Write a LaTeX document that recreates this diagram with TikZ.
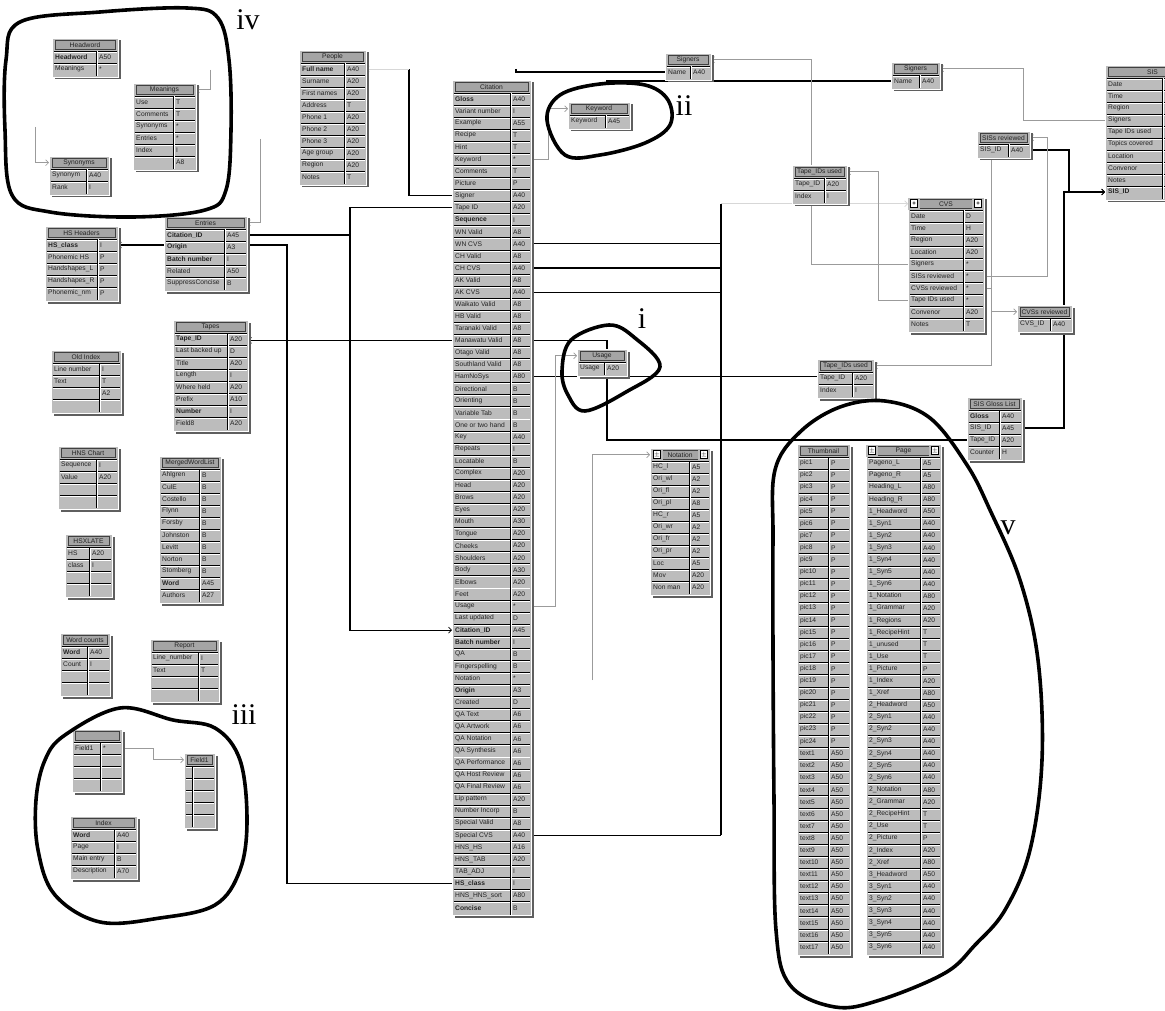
\documentclass[tikz,border=0pt]{standalone}
\usepackage{fontspec}
\setmainfont{Liberation Serif}
\newfontfamily\tabfont{Liberation Sans}
\usetikzlibrary{arrows.meta}
\definecolor{tabfill}{RGB}{188,188,188}
\definecolor{titlefill}{RGB}{165,165,165}
\definecolor{shadowc}{RGB}{95,95,95}
\definecolor{txtc}{RGB}{35,35,35}
\definecolor{linkgray}{RGB}{155,155,155}
\definecolor{faintc}{RGB}{215,215,215}
\pgfdeclarelayer{bg}
\pgfdeclarelayer{paper}
\pgfsetlayers{paper,bg,main}
\tikzset{
 tbody/.style={fill=tabfill, draw=white, line width=0.6pt, inner sep=0pt, outer sep=0pt},
 tshadow/.style={fill=shadowc},
 ttitlebox/.style={fill=titlefill, draw=black!75, line width=0.5pt},
 ttext/.style={font=\tabfont\fontsize{6.7}{7}\selectfont, text=txtc, inner sep=0pt},
 trow/.style={draw=black, line width=0.7pt},
 twhite/.style={draw=white, line width=0.6pt},
 blk/.style={draw=black, line width=1.1pt},
 gry/.style={draw=linkgray, line width=0.8pt},
 faint/.style={draw=faintc, line width=0.8pt},
 tip/.style={-{Straight Barb[length=3pt,width=6pt,line width=0.7pt]}},
 loopline/.style={draw=black, line width=3.6pt, line join=round},
 lbl/.style={font=\fontsize{30}{30}\selectfont, inner sep=0pt},
 btn/.style={fill=white, draw=black, line width=0.6pt, minimum width=7pt, minimum height=8pt, inner sep=0pt, font=\tabfont\bfseries\fontsize{6}{6}\selectfont}
}
% #1 name, #2 left x, #3 top y, #4 split x, #5 right x, #6 row pitch, #7 title, #8 rows
\newcommand\dbtable[8]{%
 \pgfmathsetmacro\tX{#2}%
 \pgfmathsetmacro\tY{#3}%
 \pgfmathsetmacro\tS{#4}%
 \pgfmathsetmacro\tR{#5}%
 \pgfmathsetmacro\tP{#6}%
 \gdef\tN{0}%
 \foreach \a/\b [count=\i] in {#8} {\xdef\tN{\i}}%
 \pgfmathsetmacro\tB{\tY+13+\tN*\tP+2}%
 \pgfmathsetmacro\tW{\tR-\tX}%
 \pgfmathsetmacro\tH{\tB-\tY}%
 \fill[tshadow] (\tX+2.5,\tY+2.5) rectangle (\tR+2.5,\tB+2.5);%
 \node[tbody, anchor=north west, minimum width=\tW pt, minimum height=\tH pt] (#1) at (\tX,\tY) {};%
 \draw[ttitlebox] (\tX+3,\tY+2) rectangle (\tR-3,\tY+11.5);%
 \node[ttext] (#1-title) at ({(\tX+\tR)/2},\tY+6.75) {#7};%
 \coordinate (#1-TL) at (\tX,\tY+6.75);%
 \coordinate (#1-TR) at (\tR,\tY+6.75);%
 \coordinate (#1-BOT) at ({(\tX+\tR)/2},\tB);%
 \foreach \a/\b [count=\i] in {#8} {%
   \pgfmathsetmacro\rT{\tY+13+(\i-1)*\tP}%
   \pgfmathsetmacro\rC{\rT+\tP/2}%
   \draw[trow] (\tX+1.5,\rT) -- (\tR-1.5,\rT);%
   \draw[twhite] (\tX+1.5,\rT+0.9) -- (\tR-1.5,\rT+0.9);%
   \node[ttext, anchor=west] (#1-n\i) at (\tX+3,\rC) {\a};%
   \node[ttext, anchor=west] (#1-v\i) at (\tS+3,\rC) {\b};%
   \coordinate (#1-L\i) at (\tX,\rC);%
   \coordinate (#1-R\i) at (\tR,\rC);%
 }%
 \draw[trow] (\tS,\tY+13) -- (\tS,\tB-1);%
 \draw[twhite] (\tS+0.9,\tY+13.5) -- (\tS+0.9,\tB-1);%
}
% button: name, x, y, symbol
\newcommand\tbtn[4]{%
 \fill[tabfill] (#2-6,#3-6) rectangle (#2+6,#3+6);%
 \node[btn] (#1) at (#2,#3) {#4};%
}
\begin{document}
\begin{tikzpicture}[x=1pt,y=-1pt]
\useasboundingbox (0,0) rectangle (1165,1011);
\clip (0,0) rectangle (1165,1011);
\begin{pgfonlayer}{paper}
\fill[white] (0,0) rectangle (1165,1011);
\end{pgfonlayer}

% ---------------- tables ----------------
\dbtable{headword}{52}{38}{96}{118}{12}{Headword}{\textbf{Headword}/A50, Meanings/*}
\dbtable{meanings}{133}{83}{173}{196}{12}{Meanings}{Use/T, Comments/T, Synonyms/*, Entries/*, Index/I, {}/A8}
\dbtable{synonyms}{49}{156}{86}{109}{12}{Synonyms}{Synonym/A40, Rank/I}
\dbtable{entries}{164}{216}{224}{247}{12}{Entries}{\textbf{Citation\_ID}/A45, \textbf{Origin}/A3, \textbf{Batch number}/I, Related/A50, SuppressConcise/B}
\dbtable{hsheaders}{45}{226}{97}{118}{12}{HS Headers}{\textbf{HS\_class}/I, Phonemic HS/P, Handshapes\_L/P, Handshapes\_R/P, Phonemic\_nm/P}
\dbtable{oldindex}{51}{350}{99}{121}{12}{Old Index}{Line number/I, Text/T, {}/A2, {}/{}}
\dbtable{hnschart}{58}{446}{96}{118}{12}{HNS Chart}{Sequence/I, Value/A20, {}/{}, {}/{}}
\dbtable{hsxlate}{65}{534}{89}{112}{12}{HSXLATE}{HS/A20, class/I, {}/{}, {}/{}}
\dbtable{wordcounts}{60}{633}{87}{110}{12}{Word counts}{\textbf{Word}/A40, Count/I, {}/{}, {}/{}}
\dbtable{tapes}{173}{320}{227}{248}{12}{Tapes}{\textbf{Tape\_ID}/A20, Last backed up/D, Title/A20, Length/I, Where held/A20, Prefix/A10, \textbf{Number}/I, Field8/A20}
\dbtable{mergedwl}{159}{456}{199}{221}{12}{MergedWordList}{Ahlgren/B, CulE/B, Costello/B, Flynn/B, Forsby/B, Johnston/B, Levitt/B, Norton/B, Stomberg/B, \textbf{Word}/A45, Authors/A27}
\dbtable{report}{150}{639}{198}{219}{12}{Report}{Line\_number/I, Text/T, {}/{}, {}/{}}
\dbtable{anon}{72}{729}{100}{122}{12}{}{Field1/*, {}/{}, {}/{}, {}/{}}
\dbtable{field1}{184}{753}{192}{215}{12}{Field1}{{}/{}, {}/{}, {}/{}, {}/{}, {}/{}}
\dbtable{index}{70}{816}{114}{137}{12}{Index}{\textbf{Word}/A40, Page/I, Main entry/B, Description/A70}
\dbtable{people}{299}{50}{344}{366}{12}{People}{\textbf{Full name}/A40, Surname/A20, First names/A20, Address/T, Phone 1/A20, Phone 2/A20, Phone 3/A20, Age group/A20, Region/A20, Notes/T}
\dbtable{citation}{452}{80}{510}{531}{12.07}{Citation}{\textbf{Gloss}/A40, Variant number/I, Example/A55, Recipe/T, Hint/T, Keyword/*, Comments/T, Picture/P, Signer/A40, Tape ID/A20, \textbf{Sequence}/I, WN Valid/A8, WN CVS/A40, CH Valid/A8, CH CVS/A40, AK Valid/A8, AK CVS/A40, Waikato Valid/A8, HB Valid/A8, Taranaki Valid/A8, Manawatu Valid/A8, Otago Valid/A8, Southland Valid/A8, HamNoSys/A80, Directional/B, Orienting/B, Variable Tab/B, One or two hand/B, Key/A40, Repeats/I, Locatable/B, Complex/A20, Head/A20, Brows/A20, Eyes/A20, Mouth/A30, Tongue/A20, Cheeks/A20, Shoulders/A20, Body/A30, Elbows/A20, Feet/A20, Usage/*, Last updated/D, \textbf{Citation\_ID}/A45, \textbf{Batch number}/I, QA/B, Fingerspelling/B, Notation/*, \textbf{Origin}/A3, Created/D, QA Text/A6, QA Artwork/A6, QA Notation/A6, QA Synthesis/A6, QA Performance/A6, QA Host Review/A6, QA Final Review/A6, Lip pattern/A20, Number Incorp/B, Special Valid/A8, Special CVS/A40, HNS\_HS/A16, HNS\_TAB/A20, TAB\_ADJ/I, \textbf{HS\_class}/I, HNS\_HNS\_sort/A80, \textbf{Concise}/B}
\dbtable{keyword}{568}{102}{605}{630}{12}{Keyword}{Keyword/A45}
\dbtable{signersA}{665}{53}{690}{711}{12}{Signers}{Name/A40}
\dbtable{signersB}{891}{62}{919}{940}{12}{Signers}{Name/A40}
\dbtable{sis}{1105}{65}{1162}{1200}{12}{SIS}{Date/D, Time/H, Region/A20, Signers/*, Tape IDs used/*, Topics covered/T, Location/A20, Convenor/A20, Notes/T, \textbf{SIS\_ID}/A40}
\dbtable{tapeidsA}{792}{165}{824}{847}{12}{Tape\_IDs used}{Tape\_ID/A20, Index/I}
\dbtable{sisrev}{977}{131}{1008}{1030}{12}{SISs reviewed}{SIS\_ID/A40}
\dbtable{cvs}{908}{197}{963}{984}{12}{CVS}{Date/D, Time/H, Region/A20, Location/A20, Signers/*, SISs reviewed/*, CVSs reviewed/*, Tape IDs used/*, Convenor/A20, Notes/T}
\dbtable{cvsrev}{1017}{305}{1050}{1072}{12}{CVSs reviewed}{CVS\_ID/A40}
\dbtable{tapeidsB}{817}{359}{852}{874}{12}{Tape\_IDs used}{Tape\_ID/A20, Index/I}
\dbtable{usage}{577}{349}{604}{627}{12}{Usage}{Usage/A20}
\dbtable{glosslist}{967}{397}{999}{1022}{12}{SIS Gloss List}{\textbf{Gloss}/A40, SIS\_ID/A45, Tape\_ID/A20, Counter/H}
\dbtable{notation}{650}{448}{689}{710}{12}{Notation}{HC\_l/A5, Ori\_wl/A2, Ori\_fl/A2, Ori\_pl/A8, HC\_r/A5, Ori\_wr/A2, Ori\_fr/A2, Ori\_pr/A2, Loc/A5, Mov/A20, Non man/A20}
\dbtable{thumb}{797}{444}{828}{850}{12.1}{Thumbnail}{pic1/P, pic2/P, pic3/P, pic4/P, pic5/P, pic6/P, pic7/P, pic8/P, pic9/P, pic10/P, pic11/P, pic12/P, pic13/P, pic14/P, pic15/P, pic16/P, pic17/P, pic18/P, pic19/P, pic20/P, pic21/P, pic22/P, pic23/P, pic24/P, text1/A50, text2/A50, text3/A50, text4/A50, text5/A50, text6/A50, text7/A50, text8/A50, text9/A50, text10/A50, text11/A50, text12/A50, text13/A50, text14/A50, text15/A50, text16/A50, text17/A50}
\dbtable{page}{866}{444}{920}{941}{12.1}{Page}{Pageno\_L/A5, Pageno\_R/A5, Heading\_L/A80, Heading\_R/A80, 1\_Headword/A50, 1\_Syn1/A40, 1\_Syn2/A40, 1\_Syn3/A40, 1\_Syn4/A40, 1\_Syn5/A40, 1\_Syn6/A40, 1\_Notation/A80, 1\_Grammar/A20, 1\_Regions/A20, 1\_RecipeHint/T, 1\_unused/T, 1\_Use/T, 1\_Picture/P, 1\_Index/A20, 1\_Xref/A80, 2\_Headword/A50, 2\_Syn1/A40, 2\_Syn2/A40, 2\_Syn3/A40, 2\_Syn4/A40, 2\_Syn5/A40, 2\_Syn6/A40, 2\_Notation/A80, 2\_Grammar/A20, 2\_RecipeHint/T, 2\_Use/T, 2\_Picture/P, 2\_Index/A20, 2\_Xref/A80, 3\_Headword/A50, 3\_Syn1/A40, 3\_Syn2/A40, 3\_Syn3/A40, 3\_Syn4/A40, 3\_Syn5/A40, 3\_Syn6/A40}

% title buttons
\tbtn{cvs-b1}{914}{203.75}{+}
\tbtn{cvs-b2}{978}{203.75}{+}
\tbtn{notation-b1}{657}{454.75}{$\pm$}
\tbtn{notation-b2}{704}{454.75}{$\pm$}
\tbtn{page-b1}{872}{450.75}{$\pm$}
\tbtn{page-b2}{935}{450.75}{$\pm$}

% ---------------- connectors ----------------
\begin{pgfonlayer}{bg}
\coordinate (busA) at (350,0);
\coordinate (busB) at (287,0);
\coordinate (busP) at (409,0);
\coordinate (busK) at (548,0);
\coordinate (busU) at (555,0);
\coordinate (busM) at (607,0);
\coordinate (busC) at (721,0);
\coordinate (busS1) at (811,0);
\coordinate (busT1) at (878,0);
\coordinate (busS2) at (1023,0);
\coordinate (busSR) at (1047,0);
\coordinate (busCR) at (991,0);
\coordinate (busSI) at (1069,0);
\coordinate (busGL) at (1064,0);
\coordinate (busF) at (153,0);
\coordinate (notfree) at (592,680);
\coordinate (cvsbustop) at (721,203.75);
\coordinate (topfree) at (516,69);
\coordinate (top2free) at (606,81);
\coordinate (mfree) at (210,70);
\coordinate (sfree) at (35,127);
\coordinate (efree) at (260,139);

% black links
\draw[blk, tip] (entries-R1) -- (entries-R1 -| busA) -- (citation-L45 -| busA) -- (citation-L45);
\draw[blk] (citation-L10) -- (citation-L10 -| busA) -- (entries-R1 -| busA);
\draw[blk, tip] (citation-L21) -- (citation-L21 -| tapes-R1);
\draw[blk, tip] (citation-L66) -- (citation-L66 -| busB) -- (hsheaders-R1 -| busB) -- (hsheaders-R1);
\draw[blk] (citation-L9) -- (citation-L9 -| busP) -- (people-R1 -| busP);
\draw[faint, tip] (people-R1 -| busP) -- (people-R1);
\draw[blk] (citation-R21) -- (citation-R21 -| busM) -- (glosslist-L3 -| busM) -- (glosslist-L3);
\draw[blk] (citation-R24) -- (citation-R24 -| tapeidsB-L1);
\draw[blk] (citation-R13) -- (citation-R13 -| busC);
\draw[blk] (citation-R15) -- (citation-R15 -| busC);
\draw[blk] (citation-R17) -- (citation-R17 -| busC);
\draw[blk] (citation-R62) -- (citation-R62 -| busC);
\draw[blk] (cvsbustop) -- (citation-R62 -| busC);
\draw[faint, tip] (cvsbustop) -- (cvs-TL);
\draw[blk] (topfree) -- (topfree |- signersA-L1) -- (signersA-L1);
\draw[blk] (top2free) -- (signersB-L1);
\draw[blk, tip] (sisrev-R1) -- (sisrev-R1 -| busSI) -- (sis-L10 -| busSI) -- (sis-L10);
\draw[blk, tip] (glosslist-R2) -- (glosslist-R2 -| busGL) -- (sis-L10 -| busGL) -- (sis-L10);

% grey links
\draw[gry, tip] (citation-R6) -- (citation-R6 -| busK) -- (keyword-TL -| busK) -- (keyword-TL);
\draw[gry, tip] (citation-R43) -- (citation-R43 -| busU) -- (usage-TL -| busU) -- (usage-TL);
\draw[gry, tip] (notfree) -- (notfree |- notation-TL) -- (notation-TL);
\draw[gry, tip] (cvs-L5) -- (cvs-L5 -| busS1) -- (signersA-TR -| busS1) -- (signersA-TR);
\draw[gry, tip] (sis-L4) -- (sis-L4 -| busS2) -- (signersB-TR -| busS2) -- (signersB-TR);
\draw[gry, tip] (cvs-L8) -- (cvs-L8 -| busT1) -- (tapeidsA-TR -| busT1) -- (tapeidsA-TR);
\draw[gry, tip] (cvs-R6) -- (cvs-R6 -| busSR) -- (sisrev-TR -| busSR) -- (sisrev-TR);
\draw[gry, tip] (cvs-R7) -- (cvs-R7 -| busCR) -- (cvsrev-TL -| busCR) -- (cvsrev-TL);
\draw[gry, tip] (busCR |- sisrev-BOT) -- (busCR |- tapeidsB-TR) -- (tapeidsB-TR);
\draw[gry, tip] (mfree) -- (mfree |- meanings-TR) -- (meanings-TR);
\draw[gry, tip] (sfree) -- (sfree |- synonyms-TL) -- (synonyms-TL);
\draw[gry, tip] (efree) -- (efree |- entries-TR) -- (entries-TR);
\draw[gry, tip] (anon-R1) -- (anon-R1 -| busF) -- (field1-TL -| busF) -- (field1-TL);
\end{pgfonlayer}

% ---------------- hand-drawn groupings ----------------
\draw[loopline] plot[smooth cycle, tension=0.6] coordinates {(20,22) (100,12) (187,8) (218,18) (229,60) (231,130) (226,190) (205,210) (133,217) (50,212) (12,195) (5,130) (6,60)};
\draw[loopline] plot[smooth cycle, tension=0.6] coordinates {(547,120) (560,95) (600,84) (645,85) (668,100) (670,125) (645,143) (600,155) (565,155)};
\draw[loopline] plot[smooth cycle, tension=0.6] coordinates {(562,371) (571,340) (609,325) (635,338) (660,367) (626,392) (585,411) (568,395)};
\draw[loopline] plot[smooth cycle, tension=0.6] coordinates {(65,735) (120,708) (173,720) (215,728) (240,760) (247,820) (240,870) (215,905) (160,918) (100,922) (55,895) (38,850) (36,800) (45,760)};
\draw[loopline] plot[smooth cycle, tension=0.6] coordinates {(775,470) (800,432) (840,407) (885,401) (930,418) (967,465) (990,510) (1020,580) (1038,660) (1042,760) (1030,850) (1005,910) (975,945) (945,973) (880,1000) (835,1007) (790,985) (776,930) (774,800) (773,650) (773,540)};

\node[lbl] (lab-i) at (642,319) {i};
\node[lbl] (lab-ii) at (684,106) {ii};
\node[lbl] (lab-iii) at (244,715) {iii};
\node[lbl] (lab-iv) at (248,20) {iv};
\node[lbl] (lab-v) at (1008,528) {v};
\end{tikzpicture}
\end{document}
